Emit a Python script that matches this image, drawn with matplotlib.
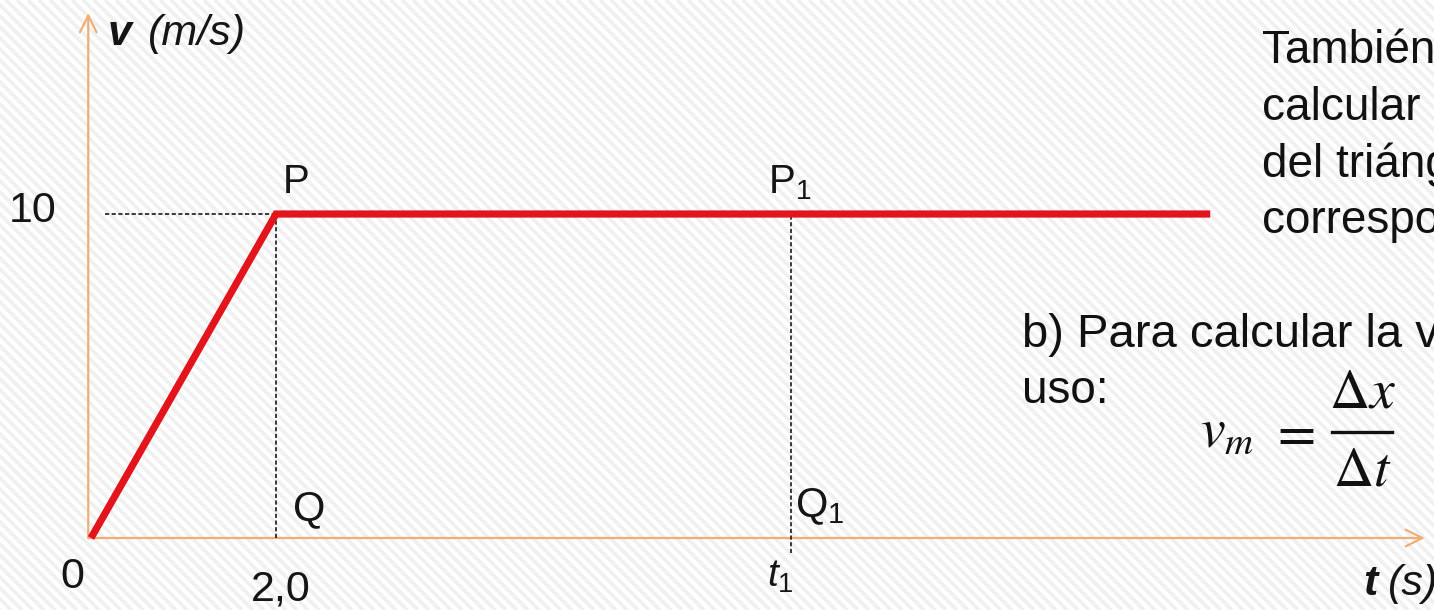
import numpy as np
import matplotlib
matplotlib.use("Agg")
import matplotlib.pyplot as plt
from matplotlib.collections import LineCollection

plt.rcParams["font.family"] = ["Liberation Sans", "DejaVu Sans"]
plt.rcParams["mathtext.fontset"] = "custom"
plt.rcParams["mathtext.rm"] = "Liberation Sans"
plt.rcParams["mathtext.it"] = "Liberation Sans:italic"
plt.rcParams["mathtext.bf"] = "Liberation Sans:bold"

# velocity-time data: uniform acceleration up to P, then constant speed
t_points = [0.0, 2.0, 12.1]
v_points = [0.0, 10.0, 10.0]
t_one = 7.57          # generic instant t1 on the constant-speed stretch
v_max = 10.0
t_accel_end = 2.0
tick_zero = "0"
tick_t = "2,0"
tick_v = "10"

W, H = 1434, 610
fig = plt.figure(figsize=(W / 100, H / 100), dpi=100)
fig.patch.set_facecolor("white")

# diagonal striped backdrop
spacing = 11
segs = []
for c in np.arange(-H, W + H, spacing):
    segs.append([(c / W, 1.0), ((c + H) / W, 0.0)])
fig.add_artist(LineCollection(segs, colors="#f0f0f0", linewidths=2.6,
                              transform=fig.transFigure, zorder=0))

ax = fig.add_axes([0, 0, 1, 1])
ax.set_axis_off()
ax.set_xlim(-0.984, 14.519)
ax.set_ylim(-2.222, 16.605)

axis_col = "#f0ae76"
arrow = dict(arrowstyle="->,head_length=0.6,head_width=0.3", color=axis_col,
             lw=1.6, shrinkA=0, shrinkB=0, mutation_scale=20)
ax.annotate("", xy=(14.42, 0), xytext=(-0.03, 0), arrowprops=arrow, zorder=2)
ax.annotate("", xy=(-0.03, 16.2), xytext=(-0.03, 0), arrowprops=arrow, zorder=2)

# guide lines
dash = dict(color="#1a1a1a", lw=1.2, ls=(0, (2.5, 1.5)), zorder=2)
ax.plot([0.15, t_accel_end], [v_max, v_max], **dash)
ax.plot([t_accel_end, t_accel_end], [0, v_max], **dash)
ax.plot([t_one, t_one], [-0.46, v_max], **dash)

# the v(t) graph
ax.plot(t_points, v_points, color="#e3141b", lw=5.2,
        solid_joinstyle="miter", solid_capstyle="butt", zorder=3)

lab = dict(color="#151515", textcoords="offset pixels", va="baseline")
ax.annotate("P", xy=(t_accel_end, v_max), xytext=(7, 21), ha="left",
            fontsize=29, **lab)
ax.annotate(r"P$_1$", xy=(t_one, v_max), xytext=(-23, 21), ha="left",
            fontsize=29, **lab)
ax.annotate("Q", xy=(t_accel_end, 0), xytext=(17, 18), ha="left",
            fontsize=30, **lab)
ax.annotate(r"Q$_1$", xy=(t_one, 0), xytext=(4, 21), ha="left",
            fontsize=30, **lab)
ax.annotate(r"$t_{\mathit{1}}$", xy=(t_one, 0), xytext=(-24, -49), ha="left",
            fontsize=28, **lab)
ax.annotate(tick_t, xy=(t_accel_end, 0), xytext=(5, -62), ha="center",
            fontsize=31, **lab)
ax.annotate(tick_zero, xy=(0, 0), xytext=(-19, -50), ha="center",
            fontsize=31, **lab)
ax.annotate(tick_v, xy=(0, v_max), xytext=(-35, -8), ha="right",
            fontsize=31, **lab)


def px(x, y):
    return x / W, 1 - y / H


txt = dict(fontsize=31, color="#151515", va="baseline", ha="left")
fig.text(*px(108, 45), "v", fontweight="bold", fontstyle="italic", **txt)
fig.text(*px(148, 45), "(m/s)", fontstyle="italic", **txt)
fig.text(*px(1363, 595), "t", fontweight="bold", fontstyle="italic", **txt)
fig.text(*px(1388, 595), "(s)", fontstyle="italic", **txt)

body = dict(color="#111111", va="baseline", ha="left")
fig.text(*px(1262, 63), "También", fontsize=33, **body)
fig.text(*px(1262, 120), "calcular el", fontsize=33, **body)
fig.text(*px(1262, 177), "del triángulo", fontsize=33, **body)
fig.text(*px(1262, 233), "correspondiente", fontsize=33, **body)
fig.text(*px(1022, 347), "b) Para calcular la velocidad", fontsize=34, **body)
fig.text(*px(1022, 403), "uso:", fontsize=33, **body)

# average-velocity formula
fm = dict(color="#111111", math_fontfamily="stix")
fig.text(*px(1200, 447), r"$v_m$", fontsize=40, va="baseline", ha="left", **fm)
fig.text(*px(1292, 435), r"$=$", fontsize=40, va="center", ha="center", **fm)
fig.text(*px(1362, 407), r"$\Delta x$", fontsize=40, va="baseline",
         ha="center", **fm)
fig.text(*px(1362, 485), r"$\Delta t$", fontsize=40, va="baseline",
         ha="center", **fm)
fig.add_artist(plt.Line2D([1332 / W, 1392 / W], [1 - 432 / H, 1 - 432 / H],
                          color="#111111", lw=2.4, transform=fig.transFigure))

fig.savefig("out.png", dpi=100)
